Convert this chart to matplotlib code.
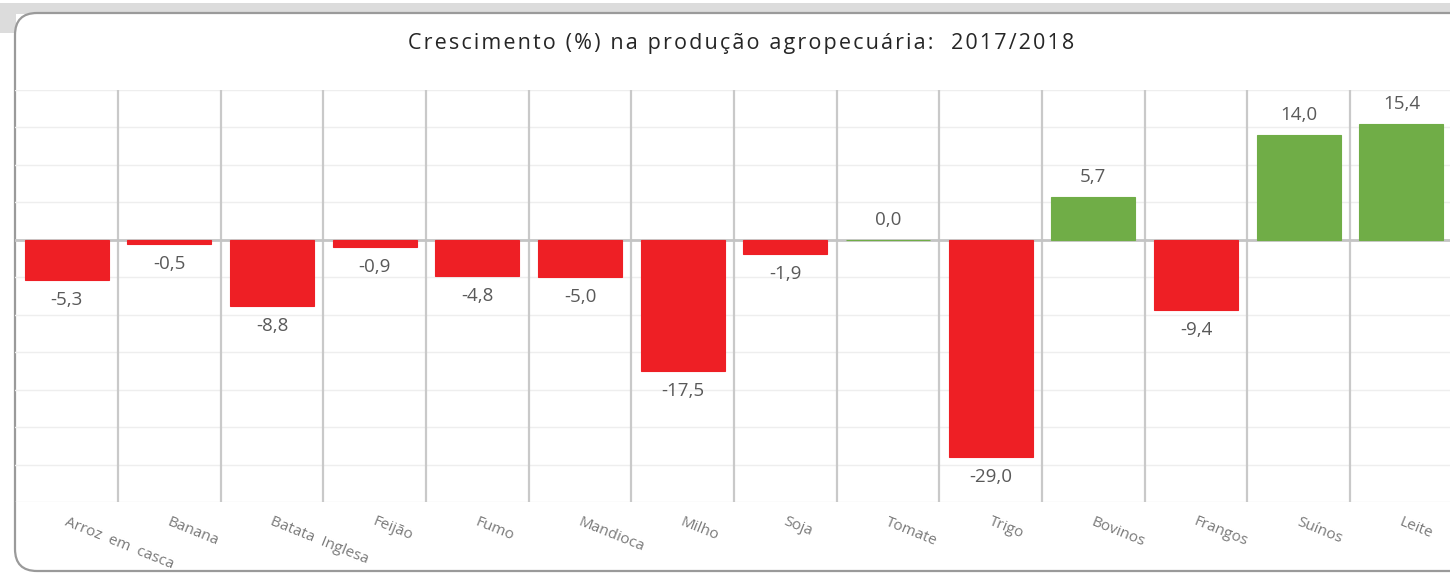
import matplotlib.pyplot as plt
from matplotlib.patches import FancyBboxPatch, Rectangle
import numpy as np

categories = ['Arroz em casca', 'Banana', 'Batata Inglesa', 'Feijão', 'Fumo', 'Mandioca',
              'Milho', 'Soja', 'Tomate', 'Trigo', 'Bovinos', 'Frangos', 'Suínos', 'Leite']
values = [-5.3, -0.5, -8.8, -0.9, -4.8, -5.0, -17.5, -1.9, 0.0, -29.0, 5.7, -9.4, 14.0, 15.4]
title = 'Crescimento (%) na produção agropecuária:  2017/2018'

RED = '#EE1F25'
GREEN = '#70AD47'

W, H = 1450, 573
fig = plt.figure(figsize=(W / 100, H / 100), dpi=100)

# grey strip behind the frame and the rounded frame itself (pixel coords)
px = lambda x, y: (x / W, 1 - y / H)
fig.patches.append(Rectangle(px(0, 14), 1, 11 / H, transform=fig.transFigure,
                             facecolor='#DCDCDC', edgecolor='none', zorder=-2))
fig.patches.append(Rectangle(px(0, 33), 16 / W, 20 / H, transform=fig.transFigure,
                             facecolor='#DCDCDC', edgecolor='none', zorder=-2))
fig.patches.append(FancyBboxPatch((0.15, 0.02), 14.8, 5.58, transform=fig.dpi_scale_trans,
                                  boxstyle='round,pad=0,rounding_size=0.22',
                                  facecolor='white', edgecolor='#9A9A9A', linewidth=1.6, zorder=-1))

left, right = 15.3 / W, 1452.7 / W
bottom, top = 1 - 502 / H, 1 - 90 / H
ax = fig.add_axes([left, bottom, right - left, top - bottom])
ax.set_zorder(2)
ax.patch.set_alpha(0)

x = np.arange(len(categories))
colors = [GREEN if v >= 0 else RED for v in values]
ax.bar(x, values, width=0.82, color=colors, edgecolor=colors, linewidth=0.8, zorder=3)

ax.set_xlim(-0.5, len(categories) - 0.5)
ax.set_ylim(-35, 20)
for yv in np.arange(-35, 21, 5):
    if yv != 0:
        ax.axhline(yv, color='#EEEEEE', linewidth=1, zorder=1)
for xv in np.arange(0.5, len(categories) - 0.5, 1):
    ax.axvline(xv, color='#C9C9C9', linewidth=1.6, zorder=2)
ax.axhline(0, color='#C4C4C4', linewidth=2, zorder=2)

for sp in ax.spines.values():
    sp.set_visible(False)
ax.set_yticks([])
ax.set_xticks([])

for xi, v in zip(x, values):
    label = f'{v:.1f}'.replace('.', ',')
    if v >= 0:
        ax.annotate(label, (xi, v), xytext=(0, 8), textcoords='offset points',
                    ha='center', va='bottom', fontsize=13.5, color='#595959',
                    family='Open Sans')
    else:
        ax.annotate(label, (xi, v), xytext=(0, -8), textcoords='offset points',
                    ha='center', va='top', fontsize=13.5, color='#595959',
                    family='Open Sans')

for xi, name in zip(x, categories):
    ax.annotate(name.replace(' ', '  '), (xi, -35), xytext=(1, -9), textcoords='offset points',
                ha='left', va='top', rotation=-22, rotation_mode='anchor',
                fontsize=11, color='#7A7A7A', family='Open Sans')

# letter-spaced title
spaced = '\u200a'.join(title)
fig.text(741 / W, 1 - 44 / H, spaced, ha='center', va='center', fontsize=15.5,
         color='#262626', family=['Open Sans', 'DejaVu Sans'])

fig.savefig('out.png', dpi=100)
